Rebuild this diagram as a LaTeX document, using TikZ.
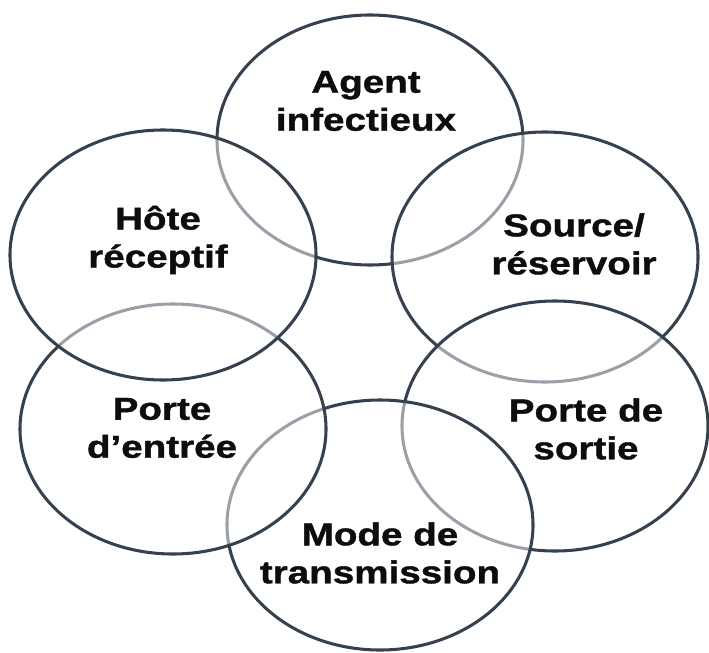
\documentclass[tikz,border=0pt]{standalone}
\usepackage{fontspec}
\setmainfont{Liberation Sans}[FakeStretch=1.22, BoldFeatures={FakeBold=1.2}]
\usetikzlibrary{shapes.geometric}
\definecolor{rim}{HTML}{36414F}
\definecolor{ink}{HTML}{0D0D0D}

\begin{document}
\begin{tikzpicture}[x=0.03cm,y=-0.03cm,
  ring/.style={ellipse, draw=rim, line width=2.6pt, fill=white, fill opacity=0.5, minimum width=9.18cm, minimum height=7.5cm, inner sep=0pt},
  tag/.style={font=\fontsize{27}{32.4}\selectfont\bfseries, text=ink, align=center}]
\useasboundingbox (0,0) rectangle (709,652);
% rings, back to front so each one greys the rim under it
\foreach \n/\x/\y in {agent/370/140, source/545/257, sortie/555/426, mode/380/525, entree/173/429, hote/163/255}
  \node[ring] (\n) at (\x,\y) {};
% labels
\foreach \n/\x/\y/\t in {
  agent/366/101/{Agent\\infectieux},
  hote/158/240/{Hôte\\réceptif},
  source/574/244/{Source/\\réservoir},
  sortie/586/429/{Porte de\\sortie},
  entree/162/428/{Porte\\d’entrée},
  mode/380/553/{Mode de\\transmission}}
  \node[tag] (t\n) at (\x,\y) {\t};
\end{tikzpicture}
\end{document}
